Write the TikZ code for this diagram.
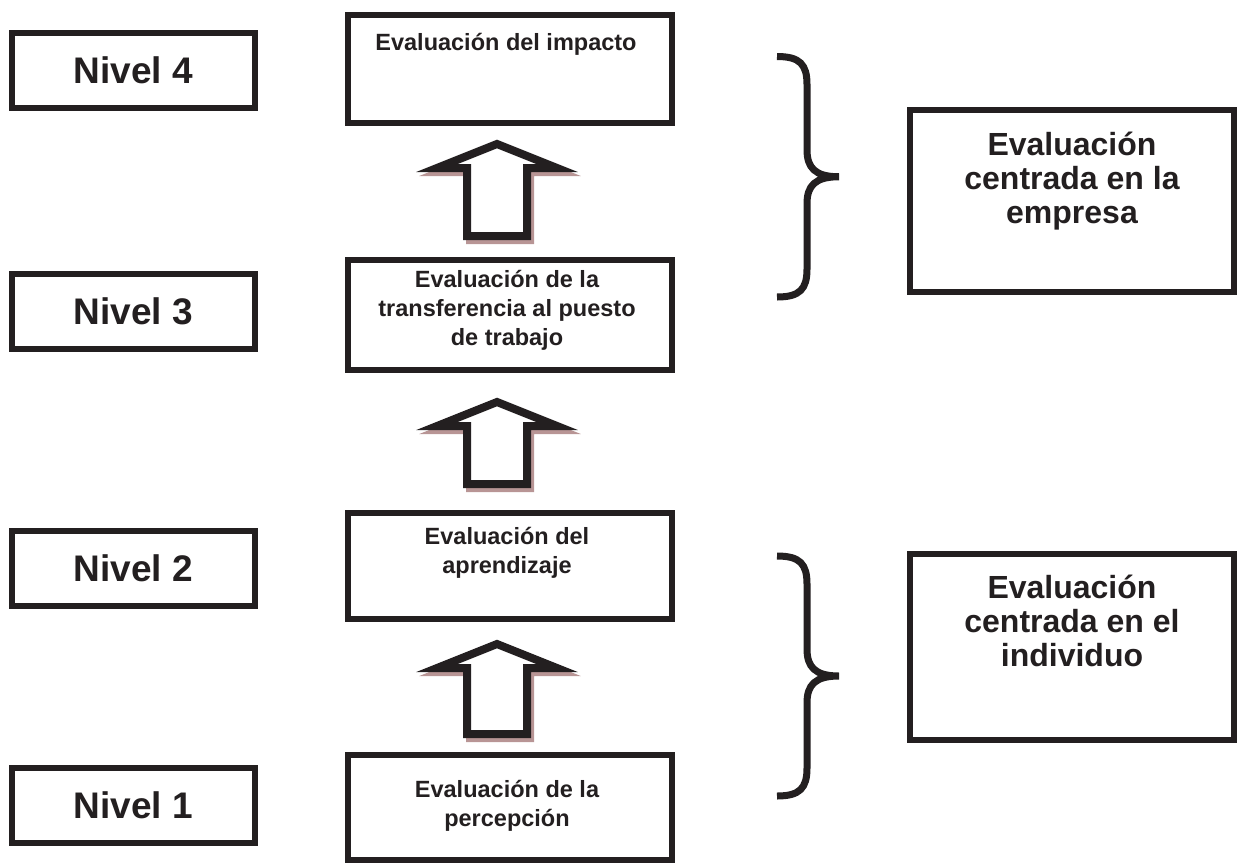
\documentclass[tikz,border=0pt]{standalone}
\usepackage{fontspec}
\setmainfont{Liberation Sans}
\definecolor{ink}{HTML}{231F20}
\definecolor{shade}{HTML}{B89595}

% hollow block arrow: #1 = centre x, #2 = head base y, #3 = shaft length
\newcommand{\hollowarrow}[3]{%
  \begin{scope}[shift={(#1+3,#2+4)}]
    \filldraw[fill=shade, draw=shade, line width=8, line join=miter, miter limit=10]
      (0,-24) -- (60,0) -- (30,0) -- (30,#3) -- (-30,#3) -- (-30,0) -- (-60,0) -- cycle;
  \end{scope}
  \begin{scope}[shift={(#1,#2)}]
    \filldraw[fill=white, draw=ink, line width=8, line join=miter, miter limit=10]
      (0,-24) -- (60,0) -- (30,0) -- (30,#3) -- (-30,#3) -- (-30,0) -- (-60,0) -- cycle;
  \end{scope}}

% right curly brace: #1 = x of the ends, #2 = top y, #3 = bottom y
\newcommand{\rightbrace}[3]{%
  \pgfmathsetmacro{\bmid}{(#2+#3)/2}
  \draw[ink, line width=7, line cap=butt]
    (#1,#2) .. controls (#1+23,#2) and (#1+30,#2+8) .. (#1+30,#2+28)
    -- (#1+30,\bmid-27)
    .. controls (#1+30,\bmid-9) and (#1+38,\bmid) .. (#1+62,\bmid)
    .. controls (#1+38,\bmid) and (#1+30,\bmid+9) .. (#1+30,\bmid+27)
    -- (#1+30,#3-28)
    .. controls (#1+30,#3-8) and (#1+23,#3) .. (#1,#3);}

\tikzset{
  box/.style={draw=ink, line width=6, fill=white, inner sep=0pt, outer sep=0pt},
  nivelbox/.style={box, minimum width=243, minimum height=75,
    text=ink, font=\fontsize{37}{40}\selectfont\bfseries},
  midbox/.style={box, minimum width=324},
  sidebox/.style={box, minimum width=324},
  % multi-line labels are placed by the baseline of their last line
  midtext/.style={anchor=base, align=center, text=ink, inner sep=0pt,
    font=\fontsize{23.5}{29}\selectfont\bfseries},
  sidetext/.style={anchor=base, align=center, text=ink, inner sep=0pt,
    font=\fontsize{32}{34}\selectfont\bfseries},
}

\begin{document}
\begin{tikzpicture}[x=1pt, y=-1pt]
\useasboundingbox (0,0) rectangle (1244,865);

% level labels
\node[nivelbox] (n4) at (133.5,70)  {Nivel 4};
\node[nivelbox] (n3) at (133.5,311) {Nivel 3};
\node[nivelbox] (n2) at (133.5,568) {Nivel 2};
\node[nivelbox] (n1) at (133.5,805) {Nivel 1};

% evaluation stages
\node[midbox, minimum height=108] (e4) at (510,69)    {};
\node[midbox, minimum height=110] (e3) at (510,315)   {};
\node[midbox, minimum height=106] (e2) at (510,566)   {};
\node[midbox, minimum height=105] (e1) at (510,807.5) {};

% arrows between stages
\hollowarrow{497}{168}{68}
\hollowarrow{497}{426}{58}
\hollowarrow{497}{668}{66}

\node[midtext] (t4) at (506,50)  {Evaluación del impacto};
\node[midtext] (t3) at (507,345) {Evaluación de la\\transferencia al puesto\\de trabajo};
\node[midtext] (t2) at (507,573) {Evaluación del\\aprendizaje};
\node[midtext] (t1) at (507,826) {Evaluación de la\\percepción};

% grouping braces
\rightbrace{777}{56.5}{297}
\rightbrace{777}{556}{796}

% groups
\node[sidebox, minimum height=182] (emp) at (1072,201) {};
\node[sidebox, minimum height=186] (ind) at (1072,647) {};
\node[sidetext] (temp) at (1072,223) {Evaluación\\centrada en la\\empresa};
\node[sidetext] (tind) at (1072,666) {Evaluación\\centrada en el\\individuo};
\end{tikzpicture}
\end{document}
